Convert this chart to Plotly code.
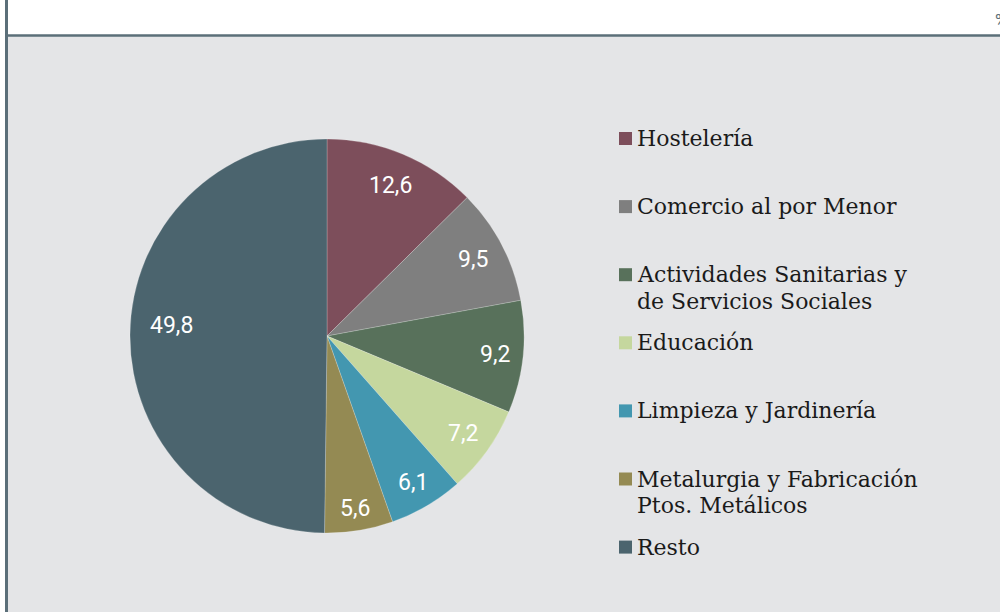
import numpy as np
import plotly.graph_objects as go

# Distribución por sector (%)
sectores = [
    "Hostelería",
    "Comercio al por Menor",
    "Actividades Sanitarias y<br>de Servicios Sociales",
    "Educación",
    "Limpieza y Jardinería",
    "Metalurgia y Fabricación<br>Ptos. Metálicos",
    "Resto",
]
porcentajes = [12.6, 9.5, 9.2, 7.2, 6.1, 5.6, 49.8]
etiquetas = ["12,6", "9,5", "9,2", "7,2", "6,1", "5,6", "49,8"]
colores = ["#7d4e5b", "#7f7f7f", "#58715b", "#c5d79e", "#4397b0", "#948a53", "#4b646e"]

W, H = 1000, 612
BG = "#e4e5e7"
LINE = "#5b6f79"

# pie geometry (pixels)
cx, cy, r = 327, 336, 197


def px_x(x):
    return x / W


def px_y(y):
    return 1 - y / H


fig = go.Figure()
fig.add_trace(go.Pie(
    labels=[s.replace("<br>", " ") for s in sectores],
    values=porcentajes,
    sort=False,
    direction="clockwise",
    rotation=0,
    marker=dict(colors=colores, line=dict(color="rgba(255,255,255,0.35)", width=0.6)),
    textinfo="none",
    hoverinfo="label+value",
    showlegend=False,
    domain=dict(x=[px_x(cx - r), px_x(cx + r)], y=[px_y(cy + r), px_y(cy - r)]),
))

shapes = [
    # grey panel
    dict(type="rect", xref="paper", yref="paper", x0=px_x(7), x1=1.0, y0=0, y1=px_y(36),
         fillcolor=BG, line=dict(width=0), layer="below"),
    # frame lines
    dict(type="line", xref="paper", yref="paper", x0=px_x(6.5), x1=1.0, y0=px_y(35.5), y1=px_y(35.5),
         line=dict(color=LINE, width=2.5)),
    dict(type="line", xref="paper", yref="paper", x0=px_x(6.5), x1=px_x(6.5), y0=0, y1=1,
         line=dict(color=LINE, width=3)),
]

annotations = []

# value labels placed along each slice's mid-angle, near the outer edge
vals = np.array(porcentajes, dtype=float)
frac = vals / vals.sum()
mid = np.cumsum(frac) - frac / 2
ang = mid * 2 * np.pi
rad_f = [0.83, 0.835, 0.86, 0.85, 0.86, 0.885, 0.79]
lift = [0, 0, 0, 0, 0, 0, 10]
for a, t, f, dy in zip(ang, etiquetas, rad_f, lift):
    x = cx + f * r * np.sin(a)
    y = cy - f * r * np.cos(a)
    annotations.append(dict(
        x=px_x(x), y=px_y(y), xref="paper", yref="paper", text=t, showarrow=False,
        xanchor="center", yanchor="middle", yshift=dy,
        font=dict(family="Roboto", size=23, color="white"),
    ))

# legend: coloured squares with serif labels (one text line per annotation)
leg_x, leg_y0, leg_step, sq = 619, 138.5, 68.1, 13
line_h = 26.5
for i, (s, c) in enumerate(zip(sectores, colores)):
    yc = leg_y0 + i * leg_step
    shapes.append(dict(type="rect", xref="paper", yref="paper",
                       x0=px_x(leg_x), x1=px_x(leg_x + sq),
                       y0=px_y(yc + sq / 2), y1=px_y(yc - sq / 2),
                       fillcolor=c, line=dict(width=0)))
    for j, part in enumerate(s.split("<br>")):
        annotations.append(dict(
            x=px_x(leg_x + sq + 3), y=px_y(yc + j * line_h), xref="paper", yref="paper",
            text=part, showarrow=False, xanchor="left", yanchor="middle", align="left",
            font=dict(family="DejaVu Serif", size=22, color="#1a1a1a"),
        ))

# unit marker, top right
annotations.append(dict(
    x=px_x(993), y=px_y(20), xref="paper", yref="paper", text="%", showarrow=False,
    xanchor="left", yanchor="middle", font=dict(family="Roboto", size=17, color=LINE),
))

fig.update_layout(
    width=W, height=H,
    margin=dict(l=0, r=0, t=0, b=0),
    paper_bgcolor="white",
    plot_bgcolor="white",
    shapes=shapes,
    annotations=annotations,
)

fig.write_html("out.html")
